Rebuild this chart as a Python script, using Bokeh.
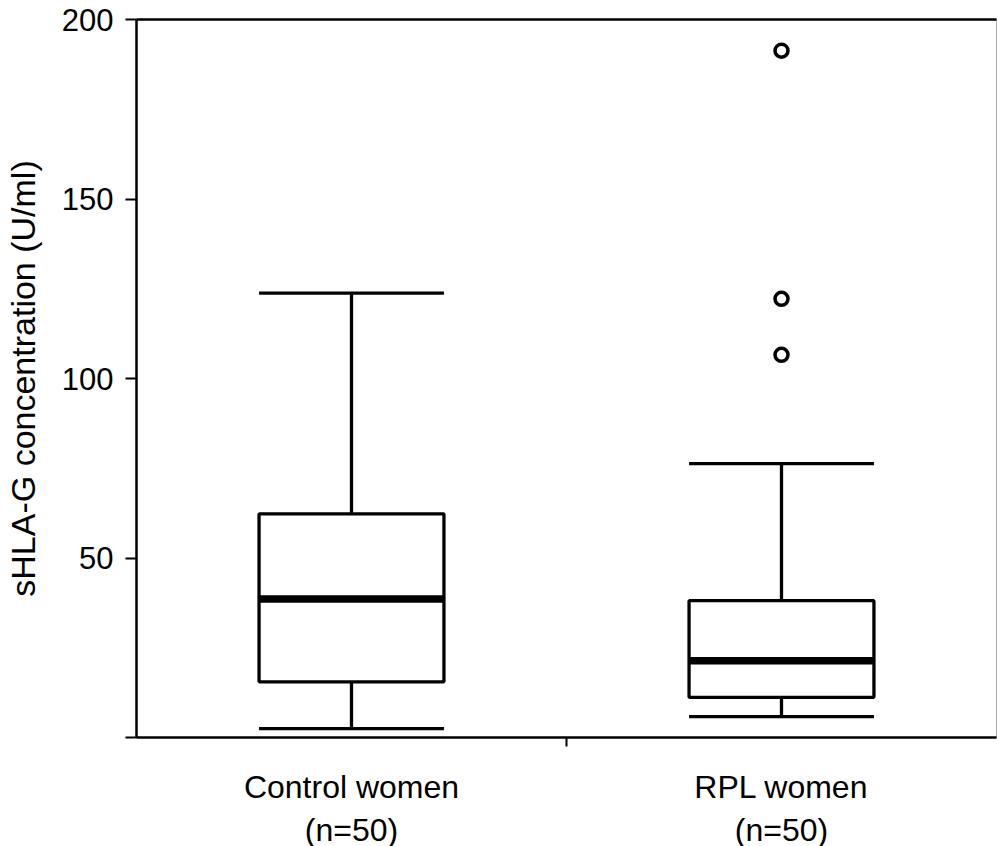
from bokeh.plotting import figure
from bokeh.models import Range1d, FixedTicker, LinearAxis, ColumnDataSource
from bokeh.embed import file_html
from bokeh.resources import INLINE

# ---- data ----
groups = ["Control women\n(n=50)", "RPL women\n(n=50)"]
lower_whisker = [2.5, 5.8]
q1 = [15.5, 11.2]
median = [38.6, 21.4]
q3 = [62.3, 38.1]
upper_whisker = [123.8, 76.3]
outlier_group = [1, 1, 1]
outlier_values = [191.3, 122.2, 106.6]
y_ticks = [0, 50, 100, 150, 200]
y_title = "sHLA-G concentration (U/ml)"

FONT = "Liberation Sans"
xs = [i + 0.5 for i in range(len(groups))]
BW = 0.43
LW = 3.3

p = figure(frame_width=860, frame_height=718, output_backend="svg", toolbar_location=None,
           x_range=Range1d(0, 2), y_range=Range1d(0, 200),
           min_border_left=136, min_border_top=19, min_border_bottom=109, min_border_right=1)
p.grid.visible = False
p.background_fill_color = "white"
p.border_fill_color = "white"
p.outline_line_color = "#aaaaaa"
p.outline_line_width = 1

src = ColumnDataSource(dict(x=xs, lo=lower_whisker, q1=q1, med=median, q3=q3, hi=upper_whisker,
                            l=[x - BW / 2 for x in xs], r=[x + BW / 2 for x in xs]))

# whiskers
p.segment(x0="x", y0="q3", x1="x", y1="hi", source=src, line_color="black", line_width=LW)
p.segment(x0="x", y0="q1", x1="x", y1="lo", source=src, line_color="black", line_width=LW)
# caps
p.segment(x0="l", y0="hi", x1="r", y1="hi", source=src, line_color="black", line_width=LW)
p.segment(x0="l", y0="lo", x1="r", y1="lo", source=src, line_color="black", line_width=LW)
# boxes
p.vbar(x="x", width=BW, bottom="q1", top="q3", source=src, fill_color="white",
       line_color="black", line_width=LW)
# medians
p.segment(x0="l", y0="med", x1="r", y1="med", source=src, line_color="black", line_width=7.5)
# outliers
p.scatter([xs[g] for g in outlier_group], outlier_values, marker="circle", size=13,
          fill_color="white", line_color="black", line_width=3.5)

# y axis
ya = p.yaxis[0]
ya.ticker = FixedTicker(ticks=y_ticks)
ya.major_label_overrides = {0: ""}
ya.major_label_text_font = FONT
ya.major_label_text_font_size = "31px"
ya.major_label_text_color = "black"
ya.major_label_standoff = 12
ya.major_tick_out = 11
ya.major_tick_in = 0
ya.major_tick_line_width = 2
ya.minor_tick_line_color = None
ya.axis_line_width = 2.5
ya.axis_label = y_title
ya.axis_label_text_font = FONT
ya.axis_label_text_font_style = "normal"
ya.axis_label_text_font_size = "34px"
ya.axis_label_text_color = "black"
ya.axis_label_standoff = 17

# x axis
xa = p.xaxis[0]
xa.ticker = FixedTicker(ticks=xs, minor_ticks=[1])
xa.major_label_overrides = {xs[i]: groups[i] for i in range(len(groups))}
xa.major_label_text_font = FONT
xa.major_label_text_font_size = "32px"
xa.major_label_text_color = "black"
xa.major_label_standoff = 22
xa.major_tick_out = 0
xa.major_tick_in = 0
xa.minor_tick_out = 9
xa.minor_tick_in = 0
xa.minor_tick_line_width = 2
xa.axis_line_width = 2.5

# top border
top = LinearAxis(ticker=FixedTicker(ticks=[]), major_label_text_font_size="0px",
                 major_tick_out=0, major_tick_in=0, minor_tick_line_color=None,
                 axis_line_width=2.5, axis_line_color="black", major_label_standoff=0)
p.add_layout(top, "above")

open("out.html", "w").write(file_html(p, INLINE))
